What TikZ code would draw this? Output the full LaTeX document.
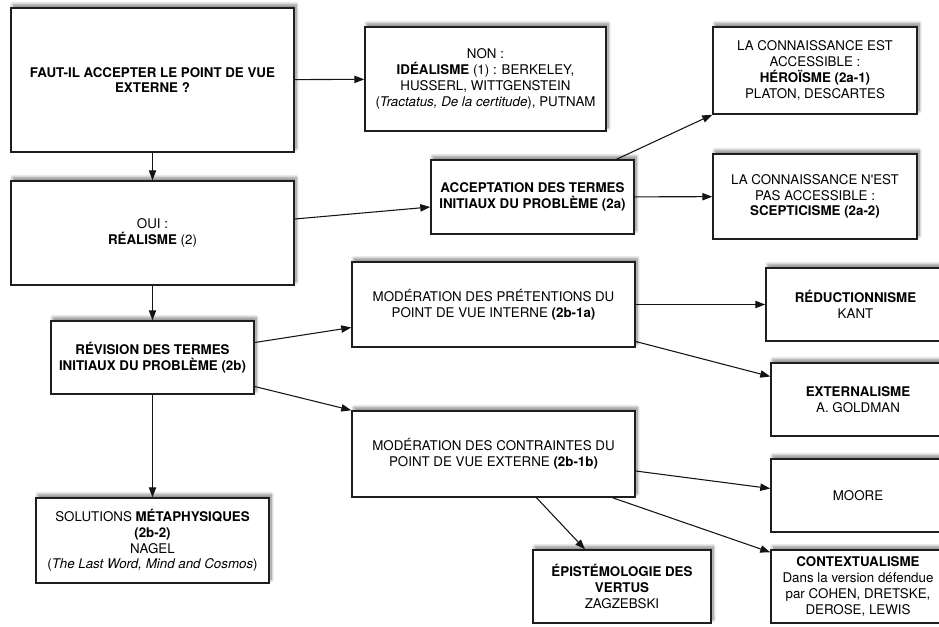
\documentclass[tikz,border=0pt]{standalone}
\usepackage{fontspec}
\setmainfont{TeX Gyre Heros}
\usetikzlibrary{arrows.meta,calc,shadows.blur}

\begin{document}
\begin{tikzpicture}[x=0.75pt,y=0.75pt,yscale=-1,xscale=1,
  box/.style={draw={rgb, 255:red, 30; green, 30; blue, 30 },line width=1.1pt,fill=white,align=center,inner sep=2pt,
    font=\fontsize{10}{11.8}\selectfont,
    blur shadow={shadow xshift=1.5pt,shadow yshift=2.5pt,shadow blur radius=2.5pt,shadow blur steps=8,shadow opacity=50}},
  wh/.style 2 args={minimum width=#1*0.75pt,minimum height=#2*0.75pt},
  arr/.style={draw={rgb, 255:red, 20; green, 20; blue, 20 },line width=0.8pt,-{Triangle[length=7.5pt,width=5.5pt]}}]
\useasboundingbox (0,0) rectangle (939,626);

%Shape: Rectangle [id:faut]
\node [box,wh={283}{144}] (faut) at (152.5,80) {\textbf{FAUT-IL ACCEPTER LE POINT DE VUE}\\\textbf{EXTERNE ?}};
%Shape: Rectangle [id:oui]
\node [box,wh={283}{104}] (oui) at (152.5,233) {OUI :\\\textbf{RÉALISME} (2)};
%Shape: Rectangle [id:non]
\node [box,wh={241}{104}] (non) at (485.5,79) {NON :\\\textbf{IDÉALISME} (1) : BERKELEY,\\HUSSERL, WITTGENSTEIN\\(\textit{Tractatus, De la certitude}), PUTNAM};
%Shape: Rectangle [id:accept]
\node [box,wh={203}{74}] (accept) at (532.5,197) {\textbf{ACCEPTATION DES TERMES}\\\textbf{INITIAUX DU PROBLÈME (2a)}};
%Shape: Rectangle [id:hero]
\node [box,wh={204}{87}] (hero) at (815,70.5) {LA CONNAISSANCE EST\\ACCESSIBLE :\\\textbf{HÉROÏSME (2a-1)}\\PLATON, DESCARTES};
%Shape: Rectangle [id:scep]
\node [box,wh={204}{85}] (scep) at (815,196.5) {LA CONNAISSANCE N\textquotesingle EST\\PAS ACCESSIBLE :\\\textbf{SCEPTICISME (2a-2)}};
%Shape: Rectangle [id:revision]
\node [box,wh={203}{73}] (revision) at (152.5,357.5) {\textbf{RÉVISION DES TERMES}\\\textbf{INITIAUX DU PROBLÈME (2b)}};
%Shape: Rectangle [id:solmeta]
\node [box,wh={233}{85}] (solmeta) at (152.5,540.5) {SOLUTIONS \textbf{MÉTAPHYSIQUES}\\\textbf{(2b-2)}\\NAGEL\\(\textit{The Last Word, Mind and Cosmos})};
%Shape: Rectangle [id:modint]
\node [box,wh={283}{85}] (modint) at (493.5,304.5) {MODÉRATION DES PRÉTENTIONS DU\\POINT DE VUE INTERNE \textbf{(2b-1a)}};
%Shape: Rectangle [id:modext]
\node [box,wh={283}{86}] (modext) at (493.5,454) {MODÉRATION DES CONTRAINTES DU\\POINT DE VUE EXTERNE \textbf{(2b-1b)}};
%Shape: Rectangle [id:reduc]
\node [box,wh={179}{73}] (reduc) at (855.5,304.5) {\textbf{RÉDUCTIONNISME}\\KANT};
%Shape: Rectangle [id:extern]
\node [box,wh={174}{73}] (extern) at (858,399.5) {\textbf{EXTERNALISME}\\A. GOLDMAN};
%Shape: Rectangle [id:moore]
\node [box,wh={174}{73}] (moore) at (858,495.5) {MOORE};
%Shape: Rectangle [id:context]
\node [box,wh={174}{73}] (context) at (858,586.5) {\textbf{CONTEXTUALISME}\\Dans la version défendue\\par COHEN, DRETSKE,\\DEROSE, LEWIS};
%Shape: Rectangle [id:epist]
\node [box,wh={178}{73}] (epist) at (622,586.5) {\textbf{ÉPISTÉMOLOGIE DES}\\\textbf{VERTUS}\\ZAGZEBSKI};

%Straight Lines
\draw [arr] (faut) -- (oui);
\draw [arr] (faut) -- (non);
\draw [arr] ($(oui.east)+(0,-14)$) -- ($(accept.west)+(0,10)$);
\draw [arr] ($(accept.north)+(84,0)$) -- (hero.south west);
\draw [arr] (accept) -- (scep);
\draw [arr] (oui) -- (revision);
\draw [arr] ($(revision.east)+(0,-15)$) -- ($(modint.west)+(0,23)$);
\draw [arr] ($(revision.east)+(0,29)$) -- (modext.north west);
\draw [arr] (revision) -- (solmeta);
\draw [arr] (modint) -- (reduc);
\draw [arr] ($(modint.east)+(0,37)$) -- ($(extern.west)+(0,-23)$);
\draw [arr] ($(modext.east)+(0,17)$) -- ($(moore.west)+(0,-7)$);
\draw [arr] ($(modext.south)+(119,0)$) -- ($(context.north west)+(0,3)$);
\draw [arr] ($(modext.south)+(43,0)$) -- ($(epist.north)+(-37,0)$);

\end{tikzpicture}
\end{document}
